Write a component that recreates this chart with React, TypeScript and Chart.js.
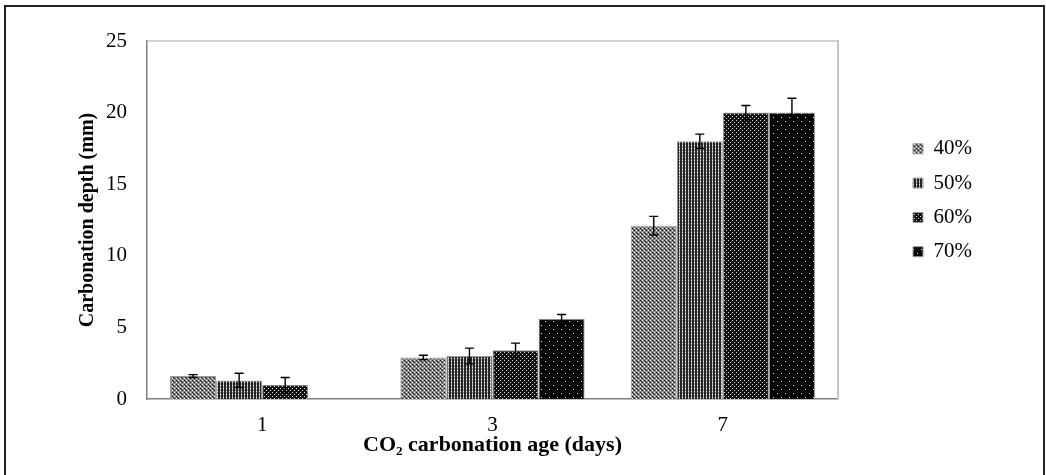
import React, { useEffect, useRef } from "react";
import { Chart, registerables } from "chart.js";

Chart.register(...registerables);

// ---- Data ----
const categories = ["1", "3", "7"];
const seriesLabels = ["40%", "50%", "60%", "70%"];
const depth40 = [1.6, 2.9, 12.1];
const depth50 = [1.3, 3.0, 18.0];
const depth60 = [1.0, 3.4, 20.0];
const depth70 = [null, 5.6, 20.0];
const err40 = [0.1, 0.15, 0.65];
const err50 = [0.5, 0.55, 0.5];
const err60 = [0.5, 0.5, 0.5];
const err70 = [0, 0.3, 1.0];
const yMin = 0;
const yMax = 25;
const yStep = 5;

const FONT = "'Liberation Serif', 'Times New Roman', serif";

function makePattern(
  ctx: CanvasRenderingContext2D,
  w: number,
  h: number,
  draw: (c: CanvasRenderingContext2D) => void
) {
  const cv = document.createElement("canvas");
  cv.width = w;
  cv.height = h;
  const c = cv.getContext("2d")!;
  draw(c);
  return ctx.createPattern(cv, "repeat");
}

function patterns(ctx: CanvasRenderingContext2D) {
  const p40 = makePattern(ctx, 4, 4, (c) => {
    c.fillStyle = "#8a8a8a";
    c.fillRect(0, 0, 4, 4);
    c.fillStyle = "#1e1e1e";
    c.fillRect(0, 0, 1, 1);
    c.fillRect(2, 2, 1, 1);
    c.fillRect(1, 1, 1, 1);
    c.fillStyle = "#f0f0f0";
    c.fillRect(2, 0, 1, 1);
    c.fillRect(0, 2, 1, 1);
  });
  const p50 = makePattern(ctx, 3, 3, (c) => {
    c.fillStyle = "#262626";
    c.fillRect(0, 0, 3, 3);
    c.fillStyle = "#a0a0a0";
    c.fillRect(1, 0, 1, 3);
    c.fillStyle = "#ffffff";
    c.fillRect(1, 1, 1, 1);
  });
  const p60 = makePattern(ctx, 4, 4, (c) => {
    c.fillStyle = "#121212";
    c.fillRect(0, 0, 4, 4);
    c.fillStyle = "#d8d8d8";
    c.fillRect(0, 0, 1, 1);
    c.fillRect(2, 2, 1, 1);
  });
  const p70 = makePattern(ctx, 8, 8, (c) => {
    c.fillStyle = "#000000";
    c.fillRect(0, 0, 8, 8);
    c.fillStyle = "#e8e8e8";
    c.fillRect(1, 1, 1, 1);
    c.fillRect(5, 5, 1, 1);
  });
  return [p40, p50, p60, p70];
}

const errorBarsPlugin = {
  id: "errorBars",
  afterDatasetsDraw(chart: any) {
    const ctx = chart.ctx;
    const yScale = chart.scales.y;
    chart.data.datasets.forEach((ds: any, i: number) => {
      const meta = chart.getDatasetMeta(i);
      meta.data.forEach((el: any, j: number) => {
        const v = ds.data[j];
        const e = ds.errors ? ds.errors[j] : 0;
        if (v == null || !e) return;
        const x = el.x;
        const top = yScale.getPixelForValue(v + e);
        const bot = yScale.getPixelForValue(v - e);
        ctx.save();
        ctx.strokeStyle = "#000";
        ctx.lineWidth = 1.4;
        ctx.beginPath();
        ctx.moveTo(x, top);
        ctx.lineTo(x, bot);
        ctx.moveTo(x - 4.5, top);
        ctx.lineTo(x + 4.5, top);
        ctx.moveTo(x - 4.5, bot);
        ctx.lineTo(x + 4.5, bot);
        ctx.stroke();
        ctx.restore();
      });
    });
  },
};

const framePlugin = {
  id: "frame",
  beforeDraw(chart: any) {
    const ctx = chart.ctx;
    ctx.save();
    ctx.fillStyle = "#ffffff";
    ctx.fillRect(0, 0, chart.width, chart.height);
    ctx.restore();
  },
  afterDraw(chart: any) {
    const ctx = chart.ctx;
    const a = chart.chartArea;
    ctx.save();
    ctx.strokeStyle = "#c4c4c4";
    ctx.lineWidth = 1.5;
    ctx.beginPath();
    ctx.moveTo(a.left, a.top);
    ctx.lineTo(a.right, a.top);
    ctx.stroke();
    ctx.strokeStyle = "#222222";
    ctx.lineWidth = 2;
    ctx.strokeRect(5, 6, chart.width - 7, chart.height + 20);
    ctx.restore();
  },
};

export default function App() {
  const ref = useRef<HTMLCanvasElement | null>(null);

  useEffect(() => {
    const canvas = ref.current;
    if (!canvas) return;
    const ctx = canvas.getContext("2d")!;
    const [p40, p50, p60, p70] = patterns(ctx);
    const fills = [p40, p50, p60, p70];
    const values = [depth40, depth50, depth60, depth70];
    const errs = [err40, err50, err60, err70];

    const chart = new Chart(canvas, {
      type: "bar",
      data: {
        labels: categories,
        datasets: seriesLabels.map((lab, i) => ({
          label: lab,
          data: values[i],
          errors: errs[i],
          backgroundColor: fills[i],
          borderColor: "#9a9a9a",
          borderWidth: 1,
          categoryPercentage: 0.8,
          barPercentage: 1.0,
        })) as any,
      },
      options: {
        responsive: false,
        animation: false,
        events: [],
        layout: { padding: { top: 41, left: 0, right: 64, bottom: 0 } },
        plugins: {
          tooltip: { enabled: false },
          legend: {
            position: "right",
            align: "start",
            title: {
              display: true,
              text: " ",
              font: { size: 10, family: FONT },
              padding: { top: 72, bottom: 0 },
            },
            labels: {
              boxWidth: 10,
              boxHeight: 10,
              padding: 13.3,
              color: "#000",
              font: { size: 21, family: FONT },
            },
          },
        },
        scales: {
          x: {
            grid: { display: false, drawTicks: false },
            border: { display: true, color: "#7f7f7f", width: 1.5 },
            ticks: {
              padding: 14,
              color: "#000",
              font: { size: 21, family: FONT },
            },
            title: {
              display: true,
              text: "CO₂ carbonation age (days)",
              color: "#000",
              font: { size: 22, family: FONT, weight: "bold" },
              padding: { top: 0, bottom: 16 },
            },
            afterFit: (s: any) => {
              s.height = 76;
            },
          },
          y: {
            min: yMin,
            max: yMax,
            grid: { display: false, drawTicks: false },
            border: { display: true, color: "#7f7f7f", width: 1.5 },
            ticks: {
              stepSize: yStep,
              padding: 20,
              color: "#000",
              font: { size: 21, family: FONT },
            },
            title: {
              display: true,
              text: "Carbonation depth (mm)",
              color: "#000",
              font: { size: 20, family: FONT, weight: "bold" },
              padding: { top: 76, bottom: 0 },
            },
            afterFit: (s: any) => {
              s.width = 147;
            },
          },
          yRight: {
            type: "linear",
            position: "right",
            display: true,
            grid: { display: false, drawTicks: false },
            ticks: { display: false },
            border: { display: true, color: "#c4c4c4", width: 2 },
            afterFit: (s: any) => {
              s.width = 61.7;
            },
          },
        } as any,
      },
      plugins: [framePlugin, errorBarsPlugin],
    });
    return () => chart.destroy();
  }, []);

  return (
    <div style={{ position: "absolute", left: 0, top: 0, width: 1046, height: 475 }}>
      <canvas ref={ref} width={1046} height={475} style={{ display: "block" }} />
    </div>
  );
}
